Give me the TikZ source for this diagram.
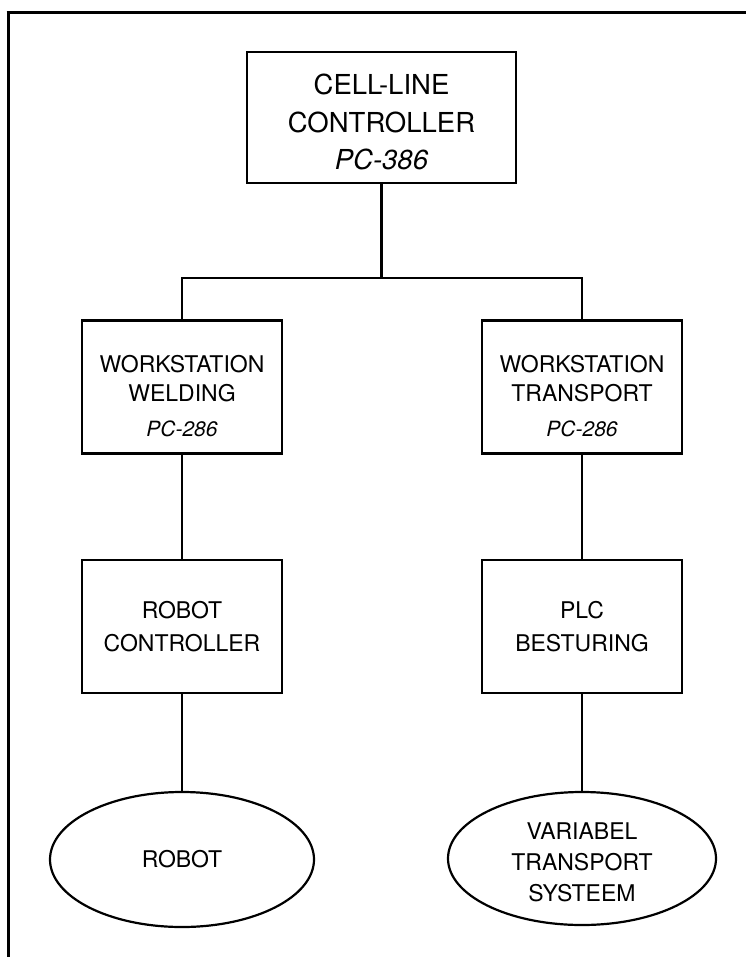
\documentclass[tikz,border=0pt]{standalone}
\usepackage{fontspec}
\setmainfont{TeX Gyre Heros}
\usetikzlibrary{shapes.geometric}

\begin{document}
\begin{tikzpicture}[x=1pt,y=-1pt,
  box/.style={draw,line width=2.2pt,minimum width=200pt,minimum height=133pt,inner sep=0pt,align=center,font=\fontsize{23}{31}\selectfont},
  oval/.style={draw,ellipse,line width=2.2pt,minimum width=266pt,minimum height=134pt,inner sep=0pt,align=center,font=\fontsize{23}{31}\selectfont},
  wire/.style={line width=2.2pt}]
\useasboundingbox (0,0) rectangle (746,957);
\draw[line width=3pt] (6.5,13) -- (746,13);
\draw[line width=3pt] (8,11.5) -- (8,957);
\node[box,minimum width=269pt,minimum height=131pt,font=\fontsize{27.5}{37.5}\selectfont] (cell) at (381.5,117.5) {\rule{0pt}{30pt}CELL-LINE\\CONTROLLER\\\textit{PC-386}};
\node[box,font=\fontsize{23}{29}\selectfont] (weld) at (182,387) {\rule{0pt}{36pt}WORKSTATION\\WELDING\\[6pt]{\itshape\fontsize{21}{21}\selectfont PC-286}};
\node[box,font=\fontsize{23}{29}\selectfont] (trans) at (582,387) {\rule{0pt}{36pt}WORKSTATION\\TRANSPORT\\[6pt]{\itshape\fontsize{21}{21}\selectfont PC-286}};
\node[box,font=\fontsize{23}{33}\selectfont] (robctl) at (182,626.5) {ROBOT\\CONTROLLER};
\node[box,font=\fontsize{23}{33}\selectfont] (plc) at (582,626.5) {PLC\\BESTURING};
\node[oval,minimum width=264pt,minimum height=135pt] (robot) at (182,859.5) {ROBOT};
\node[oval,minimum width=268pt,minimum height=133pt] (vts) at (582,858.5) {\rule{0pt}{25pt}VARIABEL\\TRANSPORT\\SYSTEEM};
\coordinate (bus) at (381.5,278);
\draw[wire] (cell.south) -- (bus);
\draw[wire] (weld.north) |- (bus) -| (trans.north);
\draw[wire] (weld) -- (robctl);
\draw[wire] (trans) -- (plc);
\draw[wire] (robctl) -- (robot);
\draw[wire] (plc) -- (vts);
\end{tikzpicture}
\end{document}
